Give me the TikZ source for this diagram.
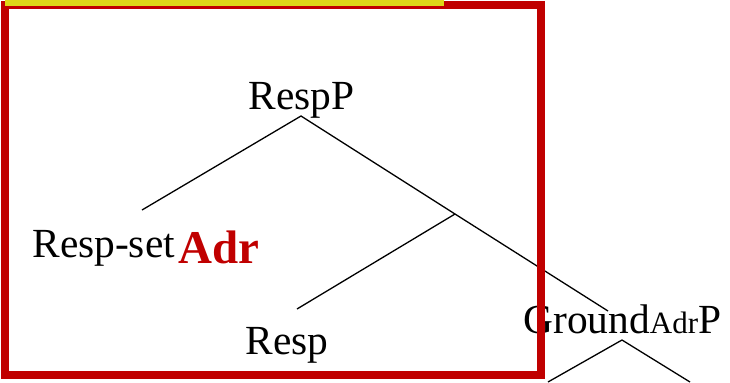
\documentclass[tikz,border=0pt]{standalone}
\usepackage{fontspec}
\setmainfont{Liberation Serif}
\usepackage{tikz}
\usetikzlibrary{positioning}
\definecolor{boxred}{RGB}{192,0,0}
\definecolor{baryellow}{RGB}{222,216,24}

\begin{document}
\begin{tikzpicture}[
    x=0.5pt, y=-0.5pt,
    word/.style={
		inner sep=0pt,
		anchor=base west,
		font=\fontsize{20.7}{24}\selectfont
	},
	adrword/.style={
		inner sep=0pt,
		anchor=base west,
		text=boxred,
		font=\fontsize{23.5}{27}\selectfont\bfseries
	},
	branch/.style={
		line width=0.65pt
	}
  ]
  \useasboundingbox (0,0) rectangle (730,382);

    % We start by placing the labels
  \node [word] (respP) at (248,109) {RespP};
  \node [word] (respset) at (32,257) {Resp-set};
  \node [adrword] (adr) at (178,263) {Adr};
  \node [word] (resp) at (245,354) {Resp};
  \node [word] (ground) at (523,333) {Ground{\fontsize{15.5}{18}\selectfont Adr}P};

 % branch points of the tree
 \coordinate (top) at (301,116);
 \coordinate (setend) at (142,210);
 \coordinate (mid) at (455,214);
 \coordinate (respend) at (297,309);
 \coordinate (groundend) at (608,311);
 \coordinate (gtop) at (622,340);
 \coordinate (gleft) at (548,382);
 \coordinate (gright) at (690,382);

 \draw [branch] (setend) -- (top) -- (mid) -- (groundend);
 \draw [branch] (mid) -- (respend);
 \draw [branch] (gleft) -- (gtop) -- (gright);

 % frame on top
 \draw [boxred, line width=4pt] (5,5) rectangle (541,375);
 \fill [baryellow] (5,0) rectangle (444,6);

\end{tikzpicture}
\end{document}
